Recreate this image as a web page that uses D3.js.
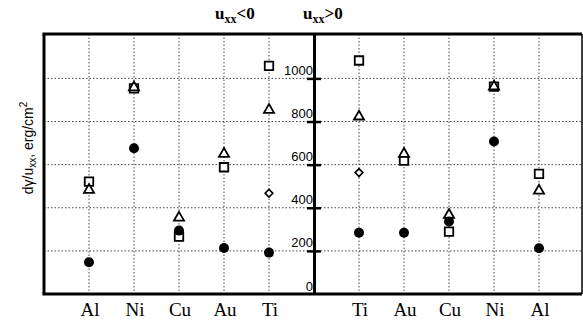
<!DOCTYPE html>
<html>
<head>
<meta charset="utf-8">
<script src="https://cdn.jsdelivr.net/npm/d3@7"></script>
<style>
  body { margin: 0; background: #fff; }
  svg { display: block; }
  .grid line { stroke: #444; stroke-width: 1; stroke-dasharray: 1.5,2; }
  .frame { fill: none; stroke: #000; }
  .cat { font-family: "Liberation Serif", "Times New Roman", serif; font-size: 19px; }
  .ylab { font-family: "Liberation Sans", Arial, sans-serif; font-size: 14px; }
  .tick text { font-family: "Liberation Sans", Arial, sans-serif; font-size: 13px; }
  .title { font-family: "Liberation Serif", "Times New Roman", serif; font-size: 17px; font-weight: bold; }
</style>
</head>
<body>
<script>
// categories for each panel
var leftCats  = ["Al", "Ni", "Cu", "Au", "Ti"];
var rightCats = ["Ti", "Au", "Cu", "Ni", "Al"];

// u_xx < 0 (left panel), in leftCats order
var leftSquare   = [521, 954, 266, 588, 1058];
var leftTriangle = [483, 958, 354, 650, 854];
var leftCircle   = [147, 676, 294, 213, 192];
var leftDiamond  = [null, null, null, null, 467];

// u_xx > 0 (right panel), in rightCats order
var rightSquare   = [1083, 619, 289, 962, 557];
var rightTriangle = [823, 650, 367, 962, 479];
var rightCircle   = [284, 284, 336, 707, 212];
var rightDiamond  = [563, null, null, null, null];

var yTicks = [0, 200, 400, 600, 800, 1000];
var gridVals = [200, 400, 600, 800, 1000];

var W = 583, H = 322;
var pLeft = 44, pMid = 314, pRight = 582, pTop = 34, pBottom = 294;

var svg = d3.select("body").append("svg")
    .attr("width", W)
    .attr("height", H);

var y = d3.scaleLinear().domain([0, 1206]).range([pBottom, pTop]);
var xL = d3.scalePoint().domain(leftCats).range([pLeft, pMid]).padding(1);
var xR = d3.scalePoint().domain(rightCats).range([pMid, pMid + 270]).padding(1);

// gridlines
var grid = svg.append("g").attr("class", "grid");
grid.selectAll(".h").data(gridVals).enter().append("line")
    .attr("x1", pLeft).attr("x2", pRight)
    .attr("y1", function(d) { return y(d); })
    .attr("y2", function(d) { return y(d); });
grid.selectAll(".vl").data(leftCats).enter().append("line")
    .attr("x1", function(d) { return xL(d); })
    .attr("x2", function(d) { return xL(d); })
    .attr("y1", pTop).attr("y2", pBottom);
grid.selectAll(".vr").data(rightCats).enter().append("line")
    .attr("x1", function(d) { return xR(d); })
    .attr("x2", function(d) { return xR(d); })
    .attr("y1", pTop).attr("y2", pBottom);

// frame
svg.append("line").attr("class", "frame").attr("stroke-width", 3)
    .attr("x1", pLeft - 1.5).attr("x2", pRight).attr("y1", pTop).attr("y2", pTop);
svg.append("line").attr("class", "frame").attr("stroke-width", 3)
    .attr("x1", pLeft - 1.5).attr("x2", pRight).attr("y1", pBottom).attr("y2", pBottom);
svg.append("line").attr("class", "frame").attr("stroke-width", 3)
    .attr("x1", pLeft).attr("x2", pLeft).attr("y1", pTop).attr("y2", pBottom);
svg.append("line").attr("class", "frame").attr("stroke-width", 1.5)
    .attr("x1", pRight).attr("x2", pRight).attr("y1", pTop).attr("y2", pBottom);

// middle y axis
var yAxis = d3.axisLeft(y)
    .tickValues(yTicks)
    .tickSize(0)
    .tickPadding(2)
    .tickFormat(d3.format("d"));

var ax = svg.append("g")
    .attr("transform", "translate(" + pMid + ",0)")
    .call(yAxis);
ax.select(".domain").attr("stroke-width", 3);
ax.selectAll(".tick text").attr("dy", "-0.3em").attr("x", -1).attr("fill", "#000");
ax.selectAll(".tick").filter(function(d) { return d > 0; })
  .append("line")
    .attr("x1", -7).attr("x2", 7)
    .attr("stroke", "#000").attr("stroke-width", 2.5);

// markers
function drawPanel(cats, xs, sq, tri, circ, dia) {
  var g = svg.append("g");
  var sqData = cats.map(function(c, i) { return {c: c, v: sq[i]}; });
  var triData = cats.map(function(c, i) { return {c: c, v: tri[i]}; });
  var cirData = cats.map(function(c, i) { return {c: c, v: circ[i]}; });
  var diaData = cats.map(function(c, i) { return {c: c, v: dia[i]}; })
      .filter(function(d) { return d.v != null; });

  g.selectAll(".sq").data(sqData).enter().append("path")
      .attr("d", d3.symbol().type(d3.symbolSquare).size(72))
      .attr("transform", function(d) { return "translate(" + xs(d.c) + "," + y(d.v) + ")"; })
      .attr("fill", "#fff").attr("stroke", "#000").attr("stroke-width", 1.8);

  g.selectAll(".tri").data(triData).enter().append("path")
      .attr("d", d3.symbol().type(d3.symbolTriangle).size(44))
      .attr("transform", function(d) { return "translate(" + xs(d.c) + "," + y(d.v) + ")"; })
      .attr("fill", "#fff").attr("stroke", "#000").attr("stroke-width", 1.8);

  g.selectAll(".dia").data(diaData).enter().append("path")
      .attr("d", d3.symbol().type(d3.symbolSquare).size(30))
      .attr("transform", function(d) { return "translate(" + xs(d.c) + "," + y(d.v) + ") rotate(45)"; })
      .attr("fill", "#fff").attr("stroke", "#000").attr("stroke-width", 1.6);

  g.selectAll(".cir").data(cirData).enter().append("circle")
      .attr("cx", function(d) { return xs(d.c); })
      .attr("cy", function(d) { return y(d.v); })
      .attr("r", 5)
      .attr("fill", "#000");

  // category labels
  svg.append("g").selectAll("text").data(cats).enter().append("text")
      .attr("class", "cat")
      .attr("x", function(d) { return xs(d) + 1; })
      .attr("y", 316)
      .attr("text-anchor", "middle")
      .text(function(d) { return d; });
}

drawPanel(leftCats, xL, leftSquare, leftTriangle, leftCircle, leftDiamond);
drawPanel(rightCats, xR, rightSquare, rightTriangle, rightCircle, rightDiamond);

// titles
function title(x, sign) {
  var t = svg.append("text").attr("class", "title").attr("x", x).attr("y", 19);
  t.append("tspan").text("u");
  t.append("tspan").attr("font-size", "12px").attr("dy", 4).text("xx");
  t.append("tspan").attr("dy", -4).text(sign + "0");
}
title(215, "<");
title(303, ">");

// y label
var yl = svg.append("text").attr("class", "ylab")
    .attr("transform", "translate(33,148) rotate(-90)")
    .attr("text-anchor", "middle");
yl.append("tspan").text("d\u03b3/u");
yl.append("tspan").attr("font-size", "10px").attr("dy", 3).text("xx");
yl.append("tspan").attr("dy", -3).text(", erg/cm");
yl.append("tspan").attr("font-size", "10px").attr("dy", -6).text("2");
</script>
</body>
</html>
